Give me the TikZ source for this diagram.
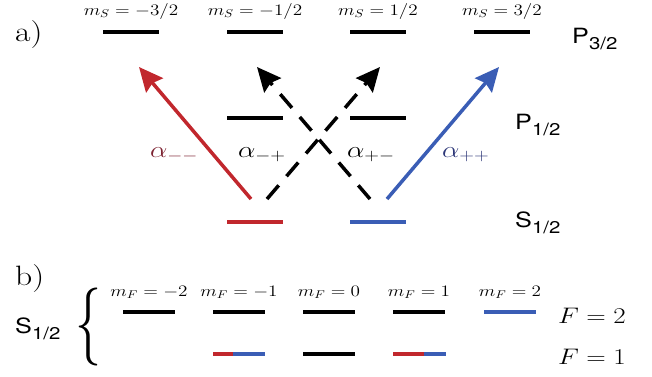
\documentclass[tikz,border=0pt]{standalone}
\usepackage{fix-cm}
\usepackage{amsmath}
\usepackage{graphicx}
\usepackage{fontspec}
\setsansfont{TeX Gyre Heros}
\usetikzlibrary{arrows.meta}
\definecolor{lvlred}{RGB}{193,39,45}
\definecolor{lvlblue}{RGB}{58,93,181}
\definecolor{alred}{RGB}{125,35,50}
\definecolor{alblue}{RGB}{45,55,120}
\newcommand{\wide}[1]{\scalebox{1.2}[1]{#1}}
\newcommand{\lowsub}[1]{\raisebox{-6pt}{\fontsize{17}{17}\selectfont #1}}
\tikzset{
    level/.style={line width=4.5pt},
    transition/.style={
        line width=3.5pt,
        -{Stealth[length=24pt,width=22pt,inset=3pt]}
    },
    crossing/.style={transition, dash pattern=on 18pt off 12pt},
    panel/.style={anchor=base west, inner sep=0pt, font=\fontsize{28}{28}\selectfont},
    term/.style={anchor=base west, inner sep=0pt, font=\sffamily\fontsize{21}{21}\selectfont},
    mlabel/.style={anchor=base, inner sep=0pt, font=\fontsize{16}{16}\selectfont},
    alabel/.style={anchor=base west, inner sep=0pt, font=\fontsize{23}{23}\selectfont},
    flabel/.style={anchor=base west, inner sep=0pt, font=\fontsize{22.5}{22.5}\selectfont}
}
\begin{document}
\begin{tikzpicture}[x=1pt, y=-1pt]
    \useasboundingbox (0,0) rectangle (652,376);
    % a) fine structure
    \node[panel] (pa) at (15,41) {\wide{a)}};
    \foreach \x/\m [count=\i] in {131/{-3/2}, 255/{-1/2}, 378/{1/2}, 502/{3/2}} {
        \draw[level] (\x-28,32) -- (\x+28,32);
        \node[mlabel] (ms\i) at (\x,15) {\wide{$m_S=\m$}};
    }
    \draw[level] (227,118) -- (283,118);
    \draw[level] (350,118) -- (406,118);
    \draw[level, lvlred] (227,222) -- (283,222);
    \draw[level, lvlblue] (350,222) -- (406,222);
    \node[term] (p32) at (572,43) {\wide{P\lowsub{3/2}}};
    \node[term] (p12) at (515,129) {\wide{P\lowsub{1/2}}};
    \node[term] (s12) at (515,227) {\wide{S\lowsub{1/2}}};

    \coordinate (rs) at (251,199);
    \coordinate (rt) at (139,67);
    \coordinate (ls) at (267,199);
    \coordinate (lt) at (380,67);
    \coordinate (qs) at (370,199);
    \coordinate (qt) at (257,67);
    \coordinate (bs) at (387,199);
    \coordinate (bt) at (499,67);
    \draw[transition, lvlred] (rs) -- (rt);
    \draw[crossing] (ls) -- (lt);
    \draw[crossing] (qs) -- (qt);
    \draw[transition, lvlblue] (bs) -- (bt);

    \node[alabel, alred] (amm) at (150,157) {\wide{$\alpha_{--}$}};
    \node[alabel] (amp) at (238,157) {\wide{$\alpha_{-+}$}};
    \node[alabel] (apm) at (347,157) {\wide{$\alpha_{+-}$}};
    \node[alabel, alblue] (app) at (442,157) {\wide{$\alpha_{++}$}};

    % b) hyperfine levels
    \node[panel] (pb) at (15,285) {\wide{b)}};
    \node[term] (s12b) at (15,333) {\wide{S\lowsub{1/2}}};
    \node (brace) at (88.5,326.5) {\resizebox*{26pt}{78pt}{$\{$}};
    \foreach \x/\m [count=\i] in {149/{-2}, 239/{-1}, 329/0, 419/1, 510/2} {
        \node[mlabel] (mf\i) at (\x,296) {\wide{$m_F=\m$}};
    }
    \foreach \x in {149, 239, 329, 419} {
        \draw[level] (\x-26,312) -- (\x+26,312);
    }
    \draw[level, lvlblue] (484,312) -- (536,312);
    \draw[level, lvlred] (213,354) -- (233,354);
    \draw[level, lvlblue] (233,354) -- (265,354);
    \draw[level] (303,354) -- (355,354);
    \draw[level, lvlred] (393,354) -- (424,354);
    \draw[level, lvlblue] (424,354) -- (446,354);
    \node[flabel] (f2) at (558,323) {\wide{$F=2$}};
    \node[flabel] (f1) at (558,364) {\wide{$F=1$}};
\end{tikzpicture}
\end{document}
